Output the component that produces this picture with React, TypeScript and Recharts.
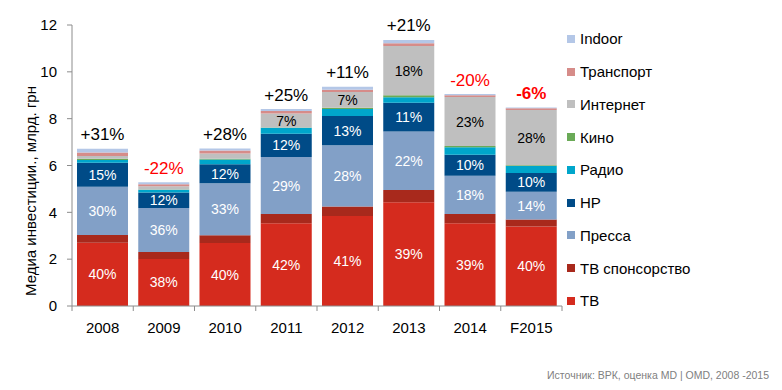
import React from 'react';
import { BarChart, Bar, XAxis, YAxis, LabelList } from 'recharts';

const years = ['2008', '2009', '2010', '2011', '2012', '2013', '2014', 'F2015'];
const tv = [2.70, 2.01, 2.69, 3.53, 3.84, 4.43, 3.53, 3.39];
const tvSponsor = [0.33, 0.30, 0.33, 0.40, 0.41, 0.52, 0.40, 0.30];
const press = [2.06, 1.88, 2.22, 2.43, 2.62, 2.50, 1.63, 1.19];
const hp = [1.03, 0.66, 0.81, 1.00, 1.24, 1.23, 0.90, 0.80];
const radio = [0.12, 0.11, 0.21, 0.25, 0.30, 0.23, 0.32, 0.30];
const kino = [0.05, 0.02, 0.03, 0.01, 0.06, 0.09, 0.05, 0.03];
const internet = [0.12, 0.13, 0.22, 0.60, 0.67, 2.10, 2.09, 2.36];
const transport = [0.14, 0.09, 0.13, 0.11, 0.10, 0.12, 0.08, 0.08];
const indoor = [0.17, 0.08, 0.09, 0.08, 0.12, 0.14, 0.05, 0.03];

const tvPct = ['40%', '38%', '40%', '42%', '41%', '39%', '39%', '40%'];
const pressPct = ['30%', '36%', '33%', '29%', '28%', '22%', '18%', '14%'];
const hpPct = ['15%', '12%', '12%', '12%', '13%', '11%', '10%', '10%'];
const internetPct = ['', '', '', '7%', '7%', '18%', '23%', '28%'];
const growth = ['+31%', '-22%', '+28%', '+25%', '+11%', '+21%', '-20%', '-6%'];

const yTicks = [0, 2, 4, 6, 8, 10, 12];

const series = [
  { key: 'tv', name: 'ТВ', color: '#d52b1e' },
  { key: 'tvSponsor', name: 'ТВ спонсорство', color: '#a8291c' },
  { key: 'press', name: 'Пресса', color: '#82a0c7' },
  { key: 'hp', name: 'НР', color: '#004b87' },
  { key: 'radio', name: 'Радио', color: '#00a6cb' },
  { key: 'kino', name: 'Кино', color: '#6aaa57' },
  { key: 'internet', name: 'Интернет', color: '#bfbfbf' },
  { key: 'transport', name: 'Транспорт', color: '#d68c89' },
  { key: 'indoor', name: 'Indoor', color: '#b4c7e7' },
];

const data = years.map((year, i) => ({
  year,
  tv: tv[i],
  tvSponsor: tvSponsor[i],
  press: press[i],
  hp: hp[i],
  radio: radio[i],
  kino: kino[i],
  internet: internet[i],
  transport: transport[i],
  indoor: indoor[i],
  tvPct: tvPct[i],
  pressPct: pressPct[i],
  hpPct: hpPct[i],
  internetPct: internetPct[i],
  growth: growth[i],
}));

const AXIS = '#8c8c8c';
const FONT = '"Liberation Sans", Arial, sans-serif';

const XTick = (props: any) => {
  const { x, y, payload, index } = props;
  const half = payload && payload.offset ? payload.offset : 30.6;
  return (
    <g>
      <line x1={x - half} y1={y} x2={x - half} y2={y + 5} stroke={AXIS} />
      {index === years.length - 1 && (
        <line x1={x + half} y1={y} x2={x + half} y2={y + 5} stroke={AXIS} />
      )}
      <text x={x} y={y + 21} textAnchor="middle" dominantBaseline="central" fontSize={15} fill="#000">
        {payload.value}
      </text>
    </g>
  );
};

const PctLabel = (color: string) => (props: any) => {
  const { x, y, width, height, value } = props;
  if (!value) return null;
  return (
    <text
      x={x + width / 2}
      y={y + height / 2}
      textAnchor="middle"
      dominantBaseline="central"
      fontSize={14}
      fill={color}
    >
      {value}
    </text>
  );
};

const GrowthLabel = (props: any) => {
  const { x, y, width, value, index } = props;
  if (!value) return null;
  const neg = String(value).startsWith('-');
  return (
    <text
      x={x + width / 2}
      y={y - 14}
      textAnchor="middle"
      dominantBaseline="central"
      fontSize={17}
      fill={neg ? '#ff0000' : '#000'}
      fontWeight={index === years.length - 1 ? 'bold' : 'normal'}
    >
      {value}
    </text>
  );
};

const YLabel = () => (
  <text
    x={30}
    y={191}
    transform="rotate(-90, 30, 191)"
    textAnchor="middle"
    dominantBaseline="central"
    fontSize={15}
    fill="#000"
  >
    Медиа инвестиции., млрд. грн
  </text>
);

export default function App() {
  const legendItems = [...series].reverse();
  return (
    <div style={{ position: 'absolute', left: 0, top: 0, width: 782, height: 390, fontFamily: FONT, background: '#fff' }}>
      <BarChart
        width={782}
        height={390}
        data={data}
        margin={{ top: 25, right: 220, bottom: 54, left: 0 }}
        barSize={51}
      >
        <YAxis
          width={72}
          domain={[0, 12]}
          ticks={yTicks}
          tickSize={5}
          tickMargin={10}
          axisLine={{ stroke: AXIS }}
          tickLine={{ stroke: AXIS }}
          tick={{ fontSize: 15, fill: '#000' }}
          interval={0}
          label={<YLabel />}
        />
        <XAxis
          dataKey="year"
          height={30}
          tickSize={0}
          tickMargin={0}
          tickLine={false}
          axisLine={{ stroke: AXIS }}
          interval={0}
          tick={<XTick />}
        />
        {series.map((s) => (
          <Bar key={s.key} dataKey={s.key} name={s.name} stackId="a" fill={s.color} isAnimationActive={false}>
            {s.key === 'tv' && <LabelList dataKey="tvPct" content={PctLabel('#fff')} />}
            {s.key === 'press' && <LabelList dataKey="pressPct" content={PctLabel('#fff')} />}
            {s.key === 'hp' && <LabelList dataKey="hpPct" content={PctLabel('#fff')} />}
            {s.key === 'internet' && <LabelList dataKey="internetPct" content={PctLabel('#000')} />}
            {s.key === 'indoor' && <LabelList dataKey="growth" content={GrowthLabel} />}
          </Bar>
        ))}
      </BarChart>
      <div style={{ position: 'absolute', left: 567, top: 22.6 }}>
        {legendItems.map((s) => (
          <div key={s.key} style={{ height: 32.75, display: 'flex', alignItems: 'center' }}>
            <span style={{ width: 8, height: 8, background: s.color, display: 'inline-block', marginRight: 5 }} />
            <span style={{ fontSize: 15, color: '#000', whiteSpace: 'nowrap' }}>{s.name}</span>
          </div>
        ))}
      </div>
      <div style={{ position: 'absolute', right: 13, top: 369, fontSize: 10.5, color: '#808080', whiteSpace: 'nowrap' }}>
        Источник: ВРК, оценка MD | OMD, 2008 -2015
      </div>
    </div>
  );
}
